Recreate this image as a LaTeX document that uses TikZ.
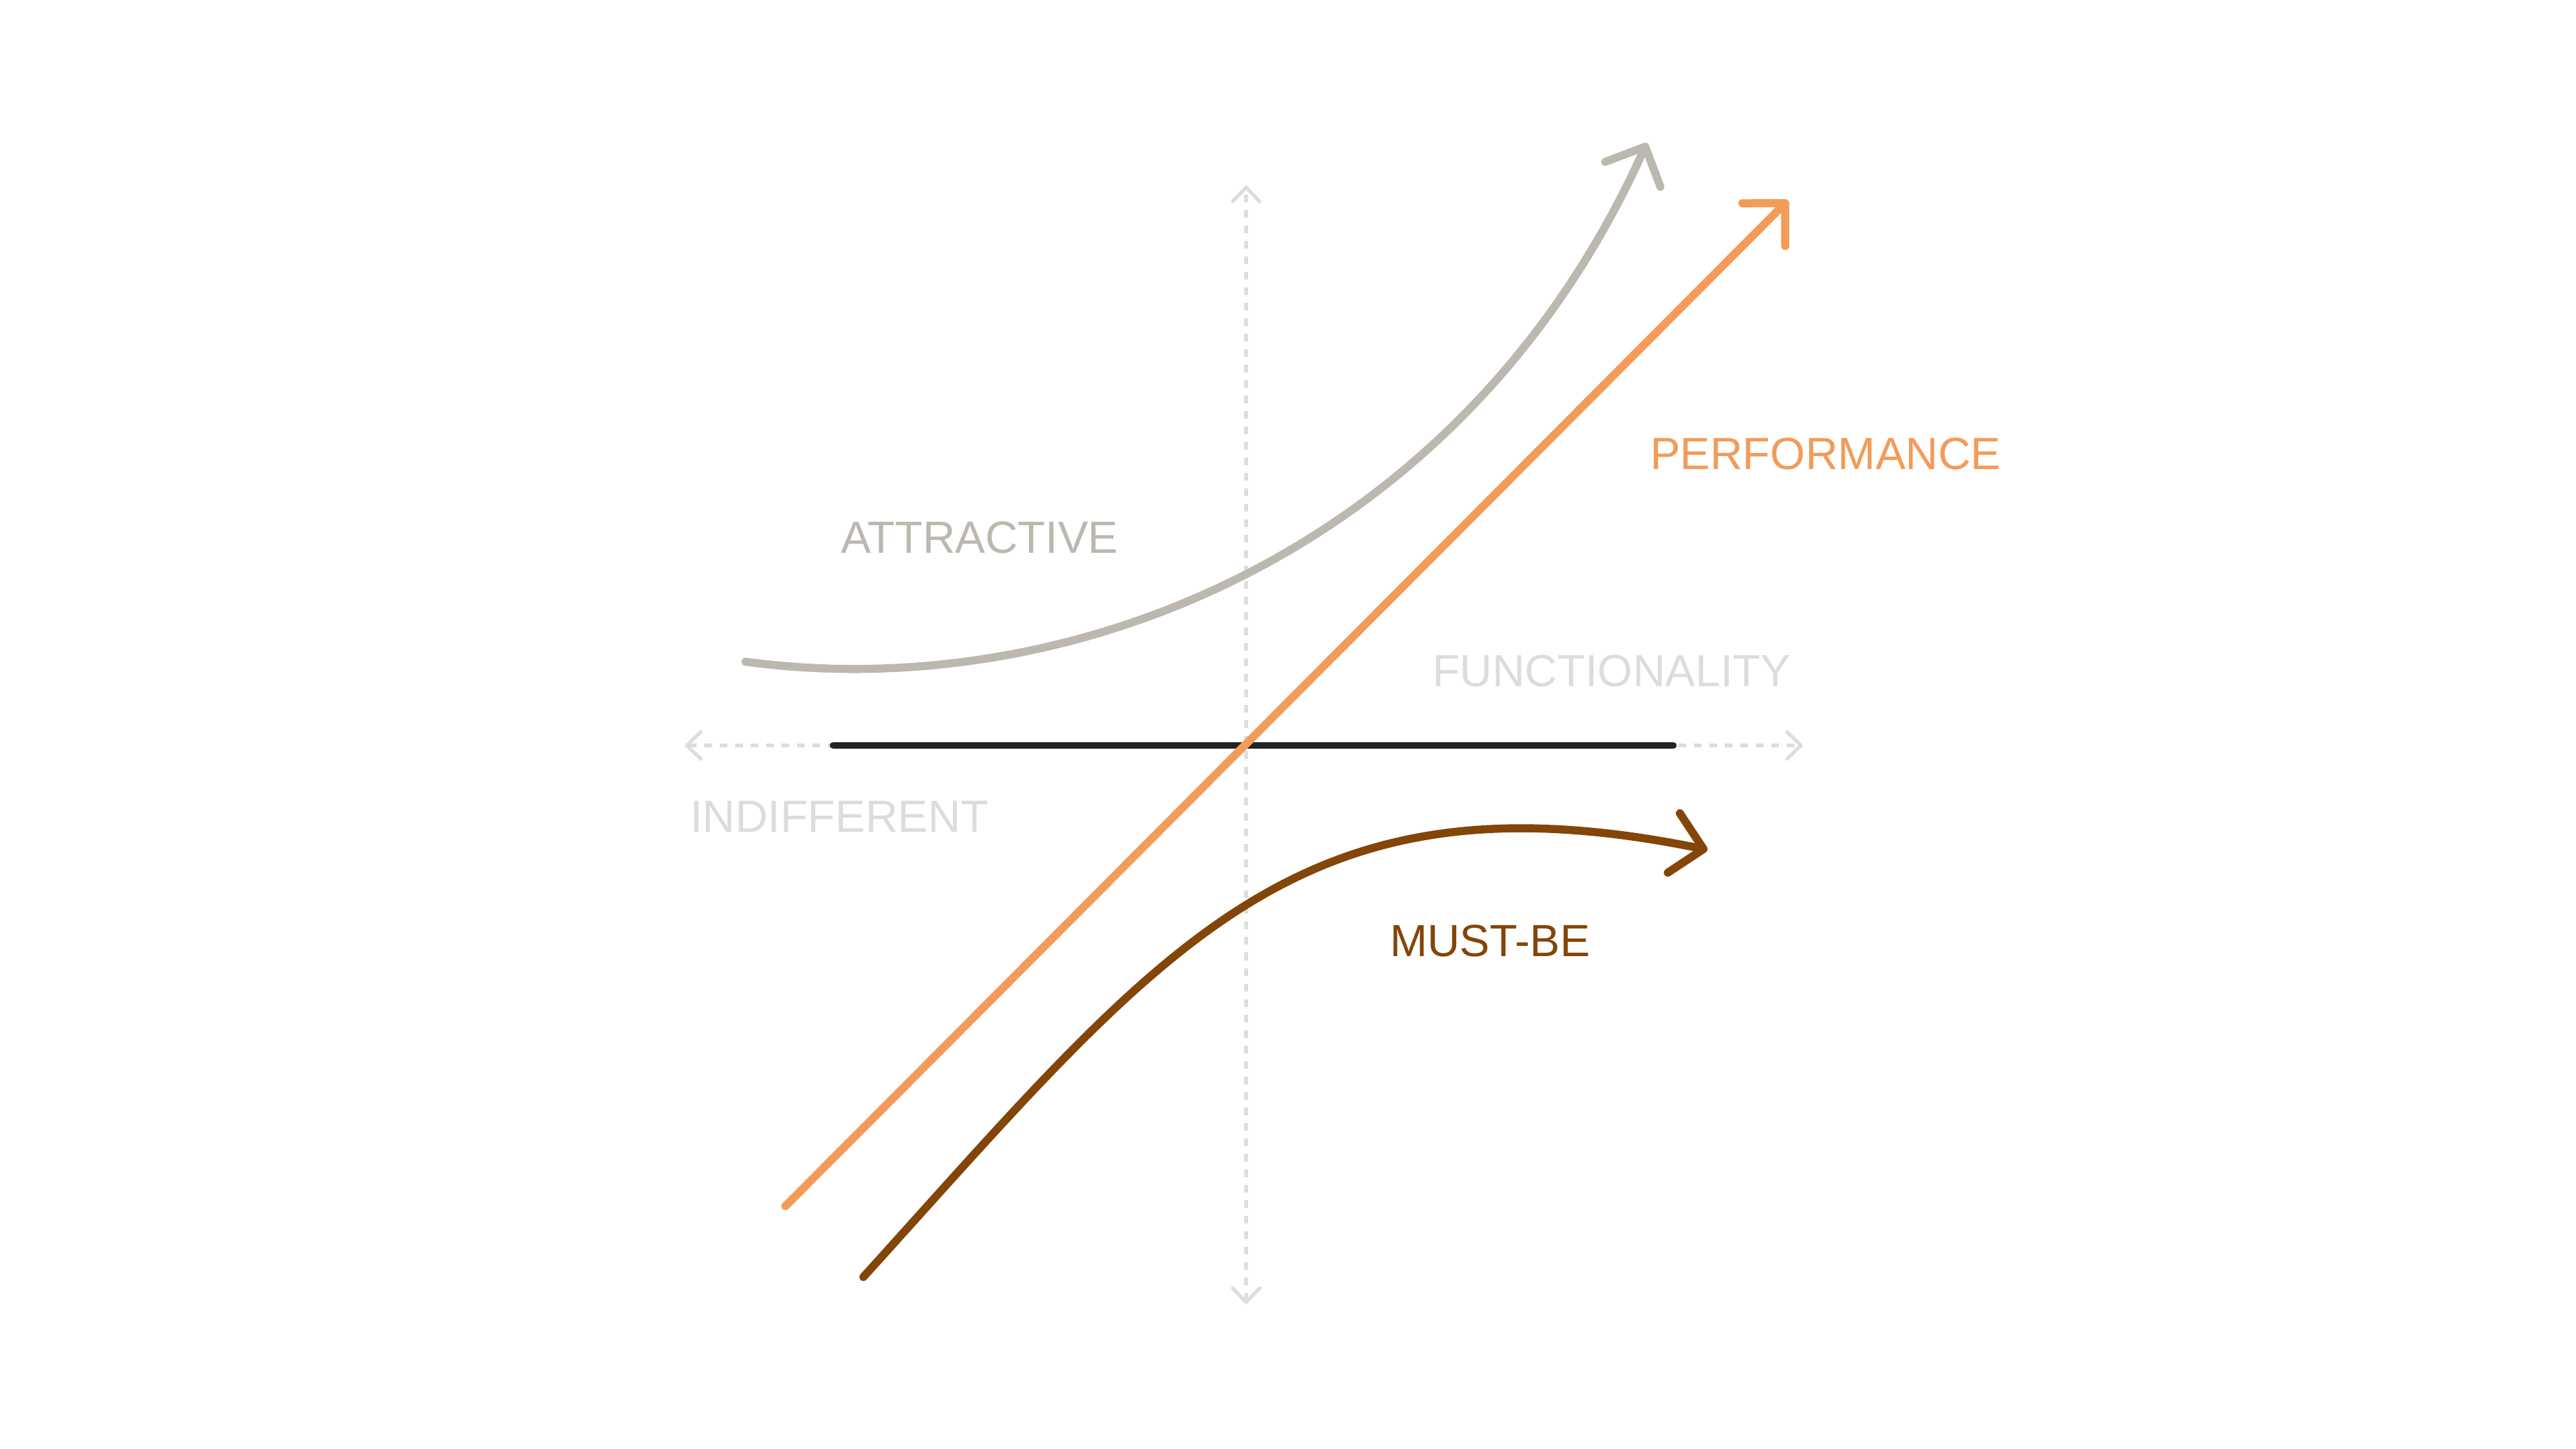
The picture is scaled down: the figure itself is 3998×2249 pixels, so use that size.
\documentclass[tikz,border=0pt]{standalone}
\usepackage{fontspec}
\setmainfont{Liberation Sans}
\usetikzlibrary{arrows.meta}

\definecolor{attractgray}{HTML}{BCB7AF}
\definecolor{perforange}{HTML}{F39B59}
\definecolor{mustbrown}{HTML}{834508}
\definecolor{axisgray}{HTML}{DDDDDD}
\definecolor{labelgray}{HTML}{DCDCDC}
\definecolor{darkline}{HTML}{222325}

\tikzset{
axis line/.style={axisgray, line width=1.1pt, dash pattern=on 2.4pt off 2.4pt,
    {Straight Barb[length=4.4pt,width=8.4pt,round]}-{Straight Barb[length=4.4pt,width=8.4pt,round]}},
curve line/.style={line width=2.5pt, line cap=round,
    -{Straight Barb[length=9.4pt,width=18.8pt,round]}},
kano label/.style={anchor=base west, inner sep=0pt,
    font=\fontsize{14pt}{17pt}\selectfont}}

\begin{document}
\begin{tikzpicture}[x=0.2pt,y=0.2pt,yscale=-1,xscale=1]

    \useasboundingbox (0,0) rectangle (3998,2249);

    % axes
    \coordinate (top) at (1934,288);
    \coordinate (bottom) at (1934,2024);
    \coordinate (left) at (1063,1157);
    \coordinate (right) at (2798,1157);
    \draw[axis line] (bottom) -- (top);
    \draw[axis line] (left) -- (right);

    % end points of the curves
    \coordinate (ind-a) at (1293,1157);
    \coordinate (ind-b) at (2597,1157);
    \coordinate (att-a) at (1157,1027);
    \coordinate (att-b) at (2556,222);
    \coordinate (perf-a) at (1219,1872);
    \coordinate (perf-b) at (2775,311);
    \coordinate (must-a) at (1340,1982);
    \coordinate (must-b) at (2650,1319);

    \draw[darkline, line width=2.1pt, line cap=round] (ind-a) -- (ind-b);

    \draw[curve line, attractgray]
        (att-a) .. controls (1657,1095) and (2269,859) .. (att-b);
    \draw[curve line, perforange] (perf-a) -- (perf-b);
    \draw[curve line, mustbrown]
        (must-a) .. controls (1809,1464) and (2011,1189) .. (must-b);

    % labels
    \foreach \name/\pos/\col/\txt in {
        perf/{(2560,729)}/perforange/PERFORMANCE,
        att/{(1304,859)}/attractgray/ATTRACTIVE,
        func/{(2222,1066)}/labelgray/FUNCTIONALITY,
        ind/{(1070,1291)}/labelgray/INDIFFERENT,
        must/{(2156,1484)}/mustbrown/MUST-BE
    }{
        \node[kano label, text=\col] (\name-label) at \pos {\txt};
    }

\end{tikzpicture}
\end{document}
